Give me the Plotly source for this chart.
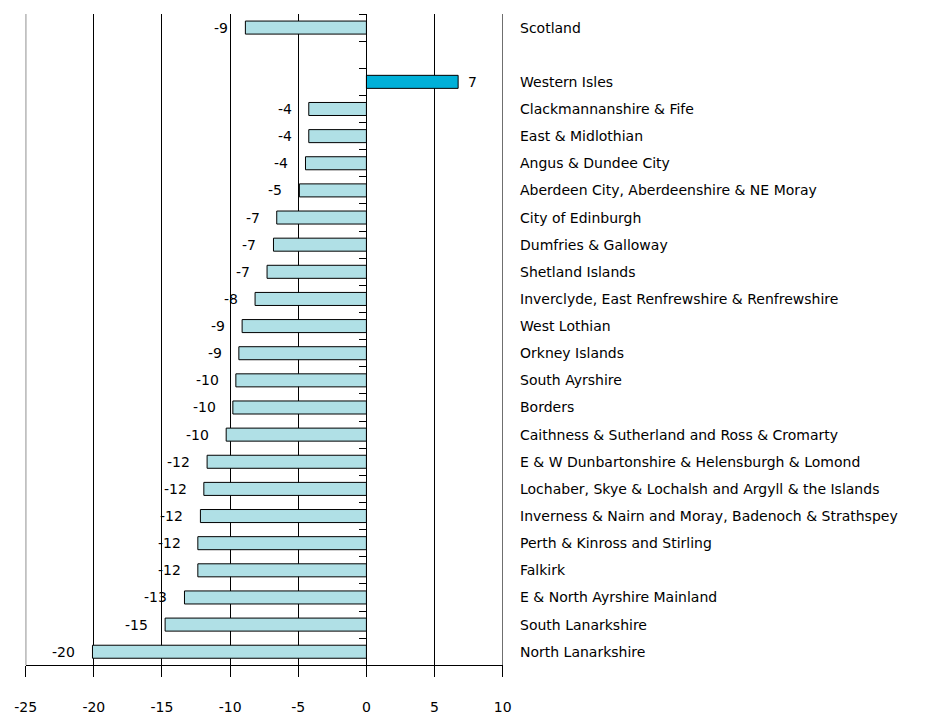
import plotly.graph_objects as go

categories = [
    "Scotland",
    " ",
    "Western Isles",
    "Clackmannanshire & Fife",
    "East & Midlothian",
    "Angus & Dundee City",
    "Aberdeen City, Aberdeenshire & NE Moray",
    "City of Edinburgh",
    "Dumfries & Galloway",
    "Shetland Islands",
    "Inverclyde, East Renfrewshire & Renfrewshire",
    "West Lothian",
    "Orkney Islands",
    "South Ayrshire",
    "Borders",
    "Caithness & Sutherland and Ross & Cromarty",
    "E & W Dunbartonshire & Helensburgh & Lomond",
    "Lochaber, Skye & Lochalsh and Argyll & the Islands",
    "Inverness & Nairn and Moray, Badenoch & Strathspey",
    "Perth & Kinross and Stirling",
    "Falkirk",
    "E & North Ayrshire Mainland",
    "South Lanarkshire",
    "North Lanarkshire",
]
values = [
    -8.88, None, 6.73, -4.23, -4.23, -4.47, -4.92, -6.58, -6.82, -7.29,
    -8.17, -9.12, -9.36, -9.58, -9.80, -10.29, -11.69, -11.93, -12.18,
    -12.37, -12.37, -13.35, -14.77, -20.10,
]
value_labels = [
    "-9", "", "7", "-4", "-4", "-4", "-5", "-7", "-7", "-7",
    "-8", "-9", "-9", "-10", "-10", "-10", "-12", "-12", "-12",
    "-12", "-12", "-13", "-15", "-20",
]
x_ticks = [-25, -20, -15, -10, -5, 0, 5, 10]

W, H = 925, 716
FONT = "DejaVu Sans, Verdana, sans-serif"
LIGHT = "#B0E0E6"
HIGHLIGHT = "#00B0D8"

colors = [HIGHLIGHT if c == "Western Isles" else LIGHT for c in categories]

x0_dom = 25.7 / W
x1_dom = 502.7 / W
y0_dom = 1 - 665.3 / H
y1_dom = 1 - 14 / H
xmin, xmax = x_ticks[0], x_ticks[-1]
yaxis_pos = x0_dom + (0 - xmin) / (xmax - xmin) * (x1_dom - x0_dom)

fig = go.Figure()
fig.add_trace(go.Bar(
    x=values, y=categories, orientation="h",
    marker=dict(color=colors, line=dict(color="#000000", width=1)),
    width=0.48, hoverinfo="x+y",
))

annotations = []
for c, v, t in zip(categories, values, value_labels):
    if v is None:
        continue
    if v < 0:
        annotations.append(dict(x=v, y=c, xref="x", yref="y", text=t,
                                showarrow=False, xanchor="right", xshift=-15,
                                font=dict(family=FONT, size=14, color="#000")))
    else:
        annotations.append(dict(x=v, y=c, xref="x", yref="y", text=t,
                                showarrow=False, xanchor="left", xshift=8,
                                font=dict(family=FONT, size=14, color="#000")))
for c in categories:
    if c.strip() == "":
        continue
    annotations.append(dict(x=518 / W, y=c, xref="paper", yref="y", text=c,
                            showarrow=False, xanchor="left",
                            font=dict(family=FONT, size=14, color="#000")))

# frame lines at the two ends of the x range (plotly hides edge gridlines)
shapes = [
    dict(type="line", xref="x", yref="paper", x0=xv, x1=xv, y0=y0_dom, y1=y1_dom,
         line=dict(color="#000000", width=1), layer="below")
    for xv in (xmin, xmax)
]

fig.update_layout(
    width=W, height=H,
    margin=dict(l=0, r=0, t=0, b=0, autoexpand=False),
    paper_bgcolor="white", plot_bgcolor="white",
    showlegend=False,
    font=dict(family=FONT, color="#000"),
    xaxis=dict(
        domain=[x0_dom, x1_dom], range=[xmin, xmax],
        tickvals=x_ticks, ticktext=[str(v) for v in x_ticks],
        showgrid=True, gridcolor="#000000", gridwidth=1,
        zeroline=True, zerolinecolor="#000000", zerolinewidth=1,
        showline=True, linecolor="#000000", linewidth=1,
        ticks="outside", ticklen=11, tickcolor="#000000", tickwidth=1,
        ticklabelstandoff=18,
        tickfont=dict(family=FONT, size=14, color="#000"),
        anchor="y", fixedrange=True, automargin=False,
    ),
    yaxis=dict(
        domain=[y0_dom, y1_dom],
        categoryorder="array", categoryarray=categories,
        range=[len(categories) - 0.5, -0.5],
        showgrid=False, zeroline=False,
        showline=True, linecolor="#000000", linewidth=1,
        ticks="outside", tickson="boundaries", ticklen=7,
        tickcolor="#000000", tickwidth=1,
        showticklabels=False,
        anchor="free", position=yaxis_pos, fixedrange=True, automargin=False,
    ),
    shapes=shapes,
    annotations=annotations,
)

fig.write_html("out.html")
